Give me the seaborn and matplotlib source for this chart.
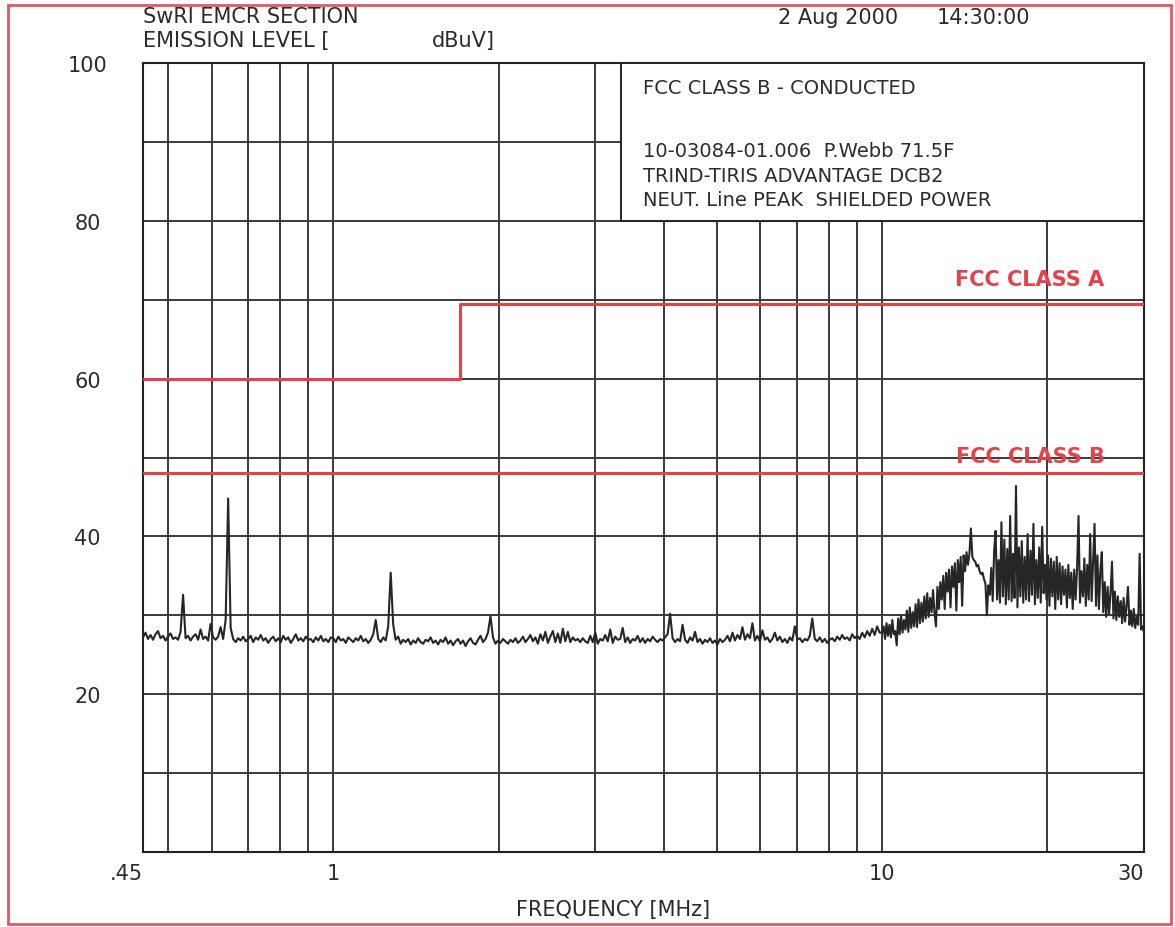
import numpy as np
import matplotlib
matplotlib.use("Agg")
import matplotlib.pyplot as plt
from matplotlib import font_manager
from matplotlib.patches import Rectangle
import seaborn as sns

# ---- measured sweep levels (dBuV), neutral line, peak detector ----
# 0.45 - 1 MHz
level_band1 = [
    27.2, 27.8, 27.0, 27.5, 26.9, 27.6, 28.0, 27.1, 27.4, 26.8,
    27.3, 27.7, 27.0, 27.2, 26.9, 27.9, 32.6, 27.1, 27.4, 26.8,
    27.3, 27.6, 26.9, 28.2, 27.0, 27.3, 26.8, 28.9, 27.2, 26.9,
    27.3, 28.5, 27.0, 29.4, 44.8, 28.4, 27.0, 26.6, 27.1, 26.8,
    27.3, 26.7, 27.0, 27.4, 26.6, 27.2, 26.9, 27.5, 26.8, 27.1,
    26.5, 27.0, 27.3, 26.7, 27.1, 26.6, 27.4, 26.9, 27.2, 26.5,
    27.0, 27.6, 26.8, 27.1, 26.7, 27.3, 26.9, 27.0, 26.6, 27.2,
    26.8, 27.4, 26.7, 27.0, 26.6, 27.2,
]
# 1 - 10 MHz
level_band2 = [
    27.1, 26.6, 27.3, 26.8, 27.0, 26.5, 27.2, 26.9, 26.6, 27.1,
    26.8, 27.4, 26.7, 27.0, 26.5, 26.9, 27.6, 29.4, 27.0, 26.6,
    27.2, 26.8, 28.6, 35.4, 28.8, 26.9, 27.3, 26.4, 26.9, 26.6,
    27.0, 26.3, 26.8, 26.5, 27.1, 26.6, 26.4, 26.9, 26.7, 27.2,
    26.5, 26.8, 26.3, 26.9, 26.6, 27.2, 26.4, 26.8, 26.2, 26.7,
    27.0, 26.4, 26.8, 26.1, 26.7, 27.1, 26.5, 26.3, 26.9, 27.4,
    26.6, 27.0, 27.8, 29.9, 27.2, 26.4, 26.8, 26.5, 27.0, 26.7,
    26.4, 26.9, 26.6, 27.1, 26.5, 26.8, 27.3, 26.6, 27.0, 27.5,
    26.7, 27.2, 26.4, 27.6, 26.8, 27.9, 26.5, 27.3, 28.0, 26.6,
    27.7, 26.5, 28.3, 26.7, 27.9, 26.6, 27.2, 26.8, 27.0, 26.6,
    27.1, 26.7, 26.5, 27.4, 26.6, 27.8, 26.4, 27.0, 26.8, 27.5,
    26.7, 28.2, 26.5, 27.3, 26.9, 27.0, 28.4, 26.6, 27.2, 26.5,
    27.0, 26.8, 27.4, 26.6, 27.1, 26.5, 27.0, 26.7, 27.3, 26.9,
    26.6, 27.0, 26.8, 27.2, 27.6, 30.2, 27.1, 26.6, 27.0, 26.7,
    28.8, 26.9, 26.5, 27.2, 26.8, 27.9, 26.6, 27.0, 26.4, 26.9,
    26.6, 27.1, 26.5, 26.8, 26.3, 27.0, 26.6, 26.9, 27.4, 26.7,
    27.8, 26.8, 27.5, 27.0, 28.5, 26.9, 27.6, 27.1, 29.0, 26.8,
    27.4, 26.7, 28.1, 26.9, 27.2, 26.6, 27.0, 27.8, 26.8, 27.3,
    26.6, 27.0, 26.5, 27.2, 26.8, 28.6, 26.9, 27.1, 26.6, 27.0,
    26.8, 27.4, 29.6, 27.0, 26.7, 27.2, 26.6, 27.0, 26.5, 26.9,
    27.1, 26.7, 27.3, 26.9, 27.5, 27.0, 27.2, 26.8, 27.6, 27.1,
    27.4, 27.0, 27.8, 27.2, 28.0, 27.4, 28.3, 27.5, 28.6, 27.8,
]
# 10 - 30 MHz
level_band3 = [
    27.8, 28.6, 27.0, 29.0, 27.4, 28.8, 27.2, 29.4, 27.6,
    28.0, 26.2, 29.6, 27.6, 30.0, 27.8, 29.4, 28.2, 30.6, 27.9,
    31.0, 28.4, 30.4, 28.6, 31.4, 28.5, 32.0, 29.0, 31.6, 29.2,
    32.4, 29.6, 32.8, 29.8, 32.2, 30.4, 33.2, 30.2, 28.6, 33.6,
    30.8,
    34.2, 32.0, 35.0, 30.8, 35.4, 33.0, 35.8, 31.0, 36.2, 33.6,
    36.6, 30.6, 37.0, 34.2, 37.4, 31.2, 37.6, 35.6, 38.0, 36.4,
    37.8,
    41.0,
    37.4, 37.0, 36.8, 36.2, 36.4, 35.6, 35.2, 35.4, 34.6, 34.0,
    30.0, 33.8,
    32.6, 36.0, 31.8, 38.2, 40.7, 32.0, 37.0, 31.6, 41.8, 32.4,
    39.6, 31.4, 38.4, 32.0, 42.6, 31.8, 37.8, 32.2, 46.4, 31.0,
    38.6, 32.4, 39.4, 31.6, 37.4, 32.0, 40.3, 31.8, 38.2, 32.6,
    41.6, 31.4, 37.0, 32.2, 38.6, 31.6, 41.2, 32.8, 36.4,
    32.0, 37.6, 31.2, 37.2, 32.4, 36.8, 30.8, 37.4, 32.0, 36.6,
    31.4, 36.2, 32.6, 35.8, 31.0, 36.4, 32.2, 35.4, 30.8, 35.8,
    32.0, 36.0, 42.6, 31.6, 35.6, 32.4, 37.2, 31.2, 36.4, 32.0,
    40.3, 31.8, 36.8, 41.6, 31.2, 37.6, 30.8, 35.6,
    38.0, 30.4, 34.2, 29.8, 33.6, 30.2, 32.8, 36.8, 29.6, 33.0,
    29.4, 32.4, 29.8, 31.8, 29.0, 32.2, 29.2, 31.2, 33.6, 28.8,
    30.6, 28.6, 30.8, 28.4, 29.8, 28.8, 37.8, 28.2, 28.6, 27.8,
]

# ---- FCC Part 15 conducted limits ----
class_a_freq = [0.45, 1.705, 1.705, 30.0]
class_a_level = [60.0, 60.0, 69.5, 69.5]
class_b_freq = [0.45, 30.0]
class_b_level = [48.0, 48.0]

x_grid = [0.45, 0.5, 0.6, 0.7, 0.8, 0.9, 1, 2, 3, 4, 5, 6, 7, 8, 9, 10, 20, 30]
x_labels = {0.45: ".45", 1: "1", 10: "10", 30: "30"}
y_grid = list(range(0, 101, 10))
y_labels = {20: "20", 40: "40", 60: "60", 80: "80", 100: "100"}

header_left = ["SwRI EMCR SECTION", "EMISSION LEVEL [", "dBuV]"]
header_date = ["2 Aug 2000", "14:30:00"]
info_title = "FCC CLASS B - CONDUCTED"
info_lines = ["10-03084-01.006  P.Webb 71.5F",
              "TRIND-TIRIS ADVANTAGE DCB2",
              "NEUT. Line PEAK  SHIELDED POWER"]

# sweep frequencies: logarithmic steps within each band
freq_band1 = np.geomspace(0.45, 1.0, len(level_band1), endpoint=False)
freq_band2 = np.geomspace(1.0, 10.0, len(level_band2), endpoint=False)
freq_band3 = np.geomspace(10.0, 30.0, len(level_band3))
sweep_freq = np.concatenate([freq_band1, freq_band2, freq_band3])
sweep_level = np.concatenate([level_band1, level_band2, level_band3])

sns.set_style("white")
available = {f.name for f in font_manager.fontManager.ttflist}
narrow = "Liberation Sans Narrow" if "Liberation Sans Narrow" in available else "DejaVu Sans"
plt.rcParams["font.family"] = [narrow, "DejaVu Sans"]

W, H = 1175, 928
fig = plt.figure(figsize=(W / 100, H / 100), dpi=100)
fig.patch.set_facecolor("white")


def fx(px):
    return px / W


def fy(py):
    return 1 - py / H


ax = fig.add_axes([fx(143), fy(853), fx(1144) - fx(143), fy(64) - fy(853)])
ax.set_xscale("log")
ax.set_xlim(0.45, 30)
ax.set_ylim(0, 100)

ink = "#2b2b2b"
red = "#e5414b"

ax.set_xticks(x_grid)
ax.set_xticklabels([x_labels.get(v, "") for v in x_grid])
ax.xaxis.set_minor_locator(matplotlib.ticker.NullLocator())
ax.set_yticks(y_grid)
ax.set_yticklabels([y_labels.get(v, "") for v in y_grid])
ax.tick_params(axis="both", length=0, labelsize=15, colors=ink)
ax.tick_params(axis="x", pad=8)
ax.tick_params(axis="y", pad=40)
for lab in ax.get_yticklabels():
    lab.set_horizontalalignment("center")
    lab.set_verticalalignment("center_baseline")
xt = ax.get_xticklabels()
xt[0].set_horizontalalignment("right")
xt[-1].set_horizontalalignment("right")

ax.grid(True, color="#3a3a3a", linewidth=1.4)
for sp in ax.spines.values():
    sp.set_color("#222222")
    sp.set_linewidth(1.5)

# limit lines
sns.lineplot(x=class_a_freq, y=class_a_level, ax=ax, color=red, linewidth=2.2,
             estimator=None, sort=False, zorder=3)
sns.lineplot(x=class_b_freq, y=class_b_level, ax=ax, color=red, linewidth=2.2,
             estimator=None, sort=False, zorder=3)
ax.text(18.6, 72.6, "FCC CLASS A", color=red, fontsize=15, fontweight="bold",
        ha="center", va="center", zorder=4)
ax.text(18.6, 50.2, "FCC CLASS B", color=red, fontsize=15, fontweight="bold",
        ha="center", va="center", zorder=4)

# measured emission trace
sns.lineplot(x=sweep_freq, y=sweep_level, ax=ax, color="#262626", linewidth=1.5,
             estimator=None, sort=False, zorder=5)

# test description box
ax.add_patch(Rectangle((3.34, 80), 30 - 3.34, 20, facecolor="white",
                       edgecolor="#222222", linewidth=1.4, zorder=6))
fig.text(fx(643), fy(88), info_title, fontsize=14, color=ink, va="center")
for txt, py in zip(info_lines, [152, 176, 201]):
    fig.text(fx(643), fy(py), txt, fontsize=14, color=ink, va="center")

# header
fig.text(fx(143), fy(17), header_left[0], fontsize=15, color=ink, va="center")
fig.text(fx(143), fy(41), header_left[1], fontsize=15, color=ink, va="center")
fig.text(fx(432), fy(41), header_left[2], fontsize=15, color=ink, va="center")
fig.text(fx(778), fy(18), header_date[0], fontsize=15, color=ink, va="center")
fig.text(fx(937), fy(18), header_date[1], fontsize=15, color=ink, va="center")

fig.text(fx(613), fy(910), "FREQUENCY [MHz]", fontsize=15, color=ink,
         ha="center", va="center")

# page border
fig.add_artist(Rectangle((fx(8), fy(925)), fx(1171) - fx(8), fy(6) - fy(925),
                         transform=fig.transFigure, fill=False,
                         edgecolor="#e8565e", linewidth=2.0))

fig.savefig("out.png", dpi=100, facecolor="white")
